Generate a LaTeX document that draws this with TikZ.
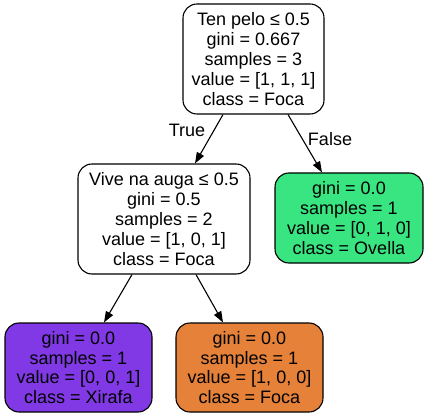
\documentclass[tikz,border=0pt]{standalone}
\usepackage{fontspec}
\setmainfont{Liberation Sans}
\usetikzlibrary{arrows.meta}
\definecolor{foca}{HTML}{E58139}
\definecolor{ovella}{HTML}{39E581}
\definecolor{xirafa}{HTML}{8139E5}
\tikzset{
  treebox/.style={draw=black, line width=1.1pt, rounded corners=14pt, align=center,
    font=\fontsize{18}{19.8}\selectfont, inner sep=0pt},
  edge/.style={line width=1.1pt, -{Triangle[length=11pt,width=8pt]}},
  elabel/.style={font=\fontsize{18}{19.8}\selectfont, inner sep=0pt}
}
\begin{document}
\begin{tikzpicture}[x=1pt,y=-1pt]
\useasboundingbox (0,0) rectangle (427,419);
\node[treebox, fill=white, minimum width=141pt, minimum height=110pt] (root) at (253.5,59)
  {Ten pelo ≤ 0.5\\gini = 0.667\\samples = 3\\value = [1, 1, 1]\\class = Foca};
\node[treebox, fill=white, minimum width=172pt, minimum height=110pt] (left) at (164,219)
  {Vive na auga ≤ 0.5\\gini = 0.5\\samples = 2\\value = [1, 0, 1]\\class = Foca};
\node[treebox, fill=ovella, minimum width=148pt, minimum height=90pt] (right) at (349,218)
  {gini = 0.0\\samples = 1\\value = [0, 1, 0]\\class = Ovella};
\node[treebox, fill=xirafa, minimum width=147pt, minimum height=89pt] (ll) at (78.5,367.5)
  {gini = 0.0\\samples = 1\\value = [0, 0, 1]\\class = Xirafa};
\node[treebox, fill=foca, minimum width=147pt, minimum height=89pt] (lr) at (249.5,367.5)
  {gini = 0.0\\samples = 1\\value = [1, 0, 0]\\class = Foca};
\draw[edge] ([xshift=-30.5pt]root.south) -- ([xshift=31pt]left.north);
\draw[edge] ([xshift=34.5pt]root.south) -- ([xshift=-27pt]right.north);
\draw[edge] ([xshift=-32pt]left.south) -- ([xshift=25.5pt]ll.north);
\draw[edge] ([xshift=32pt]left.south) -- ([xshift=-26.5pt]lr.north);
\node[elabel] (ltrue) at (187,130) {True};
\node[elabel] (lfalse) at (330,139) {False};
\end{tikzpicture}
\end{document}
